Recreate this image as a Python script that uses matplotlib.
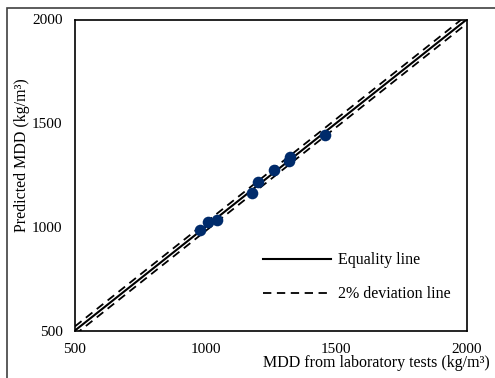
import matplotlib
matplotlib.use("Agg")
import matplotlib.pyplot as plt
from matplotlib.patches import Rectangle
import numpy as np

plt.rcParams['font.family'] = ['Liberation Serif', 'DejaVu Serif']
plt.rcParams['lines.scale_dashes'] = False

# Laboratory vs predicted maximum dry density (kg/m3)
mdd_lab = [977, 1011, 1044, 1178, 1199, 1261, 1318, 1322, 1459]
mdd_pred = [985, 1022, 1033, 1165, 1218, 1274, 1319, 1338, 1443]
deviation = 0.02          # 2 % band
band_reference = 1000     # kg/m3, density the band width is taken at
axis_ticks = [500, 1000, 1500, 2000]

W, H = 495, 378
fig = plt.figure(figsize=(W / 100, H / 100), dpi=100)
ax = fig.add_axes([75 / W, 1 - 330.5 / H, 391.7 / W, 311 / H])

# outer border of the figure
fig.patches.append(Rectangle((7 / W, -0.1), 1.2, 1 - 8 / H + 0.1,
                             transform=fig.transFigure, fill=False,
                             edgecolor='#404040', lw=1.2))

ref = np.array([axis_ticks[0], axis_ticks[-1]], dtype=float)
offset = deviation * band_reference
ax.plot(ref, ref, color='black', lw=1.5, label='Equality line', zorder=2)
ax.plot(ref, ref + offset, color='black', lw=1.3,
        dashes=(6, 4), label='2% deviation line', zorder=2)
ax.plot(ref, ref - offset, color='black', lw=1.3,
        dashes=(6, 4), zorder=2)
ax.scatter(mdd_lab, mdd_pred, s=70, color='#002B6B', zorder=3, linewidths=0)

ax.set_xlim(axis_ticks[0], axis_ticks[-1])
ax.set_ylim(axis_ticks[0], axis_ticks[-1])
ax.set_xticks(axis_ticks)
ax.set_yticks(axis_ticks)
ax.tick_params(length=0, labelsize=11, pad=9)
for s in ax.spines.values():
    s.set_linewidth(1.2)

ax.set_xlabel('MDD from laboratory tests (kg/m³)', fontsize=11.5, ha='right')
ax.xaxis.set_label_coords(1.0595, -0.08)
ax.set_ylabel('Predicted MDD (kg/m³)', fontsize=11.5, va='center')
ax.yaxis.set_label_coords(-0.135, 0.564)

ax.legend(loc='upper left', bbox_to_anchor=(0.479, 0.252), frameon=False,
          fontsize=11.5, handlelength=4.3, handletextpad=0.4,
          labelspacing=1.15, borderpad=0, borderaxespad=0)

fig.savefig('out.png', dpi=100)
